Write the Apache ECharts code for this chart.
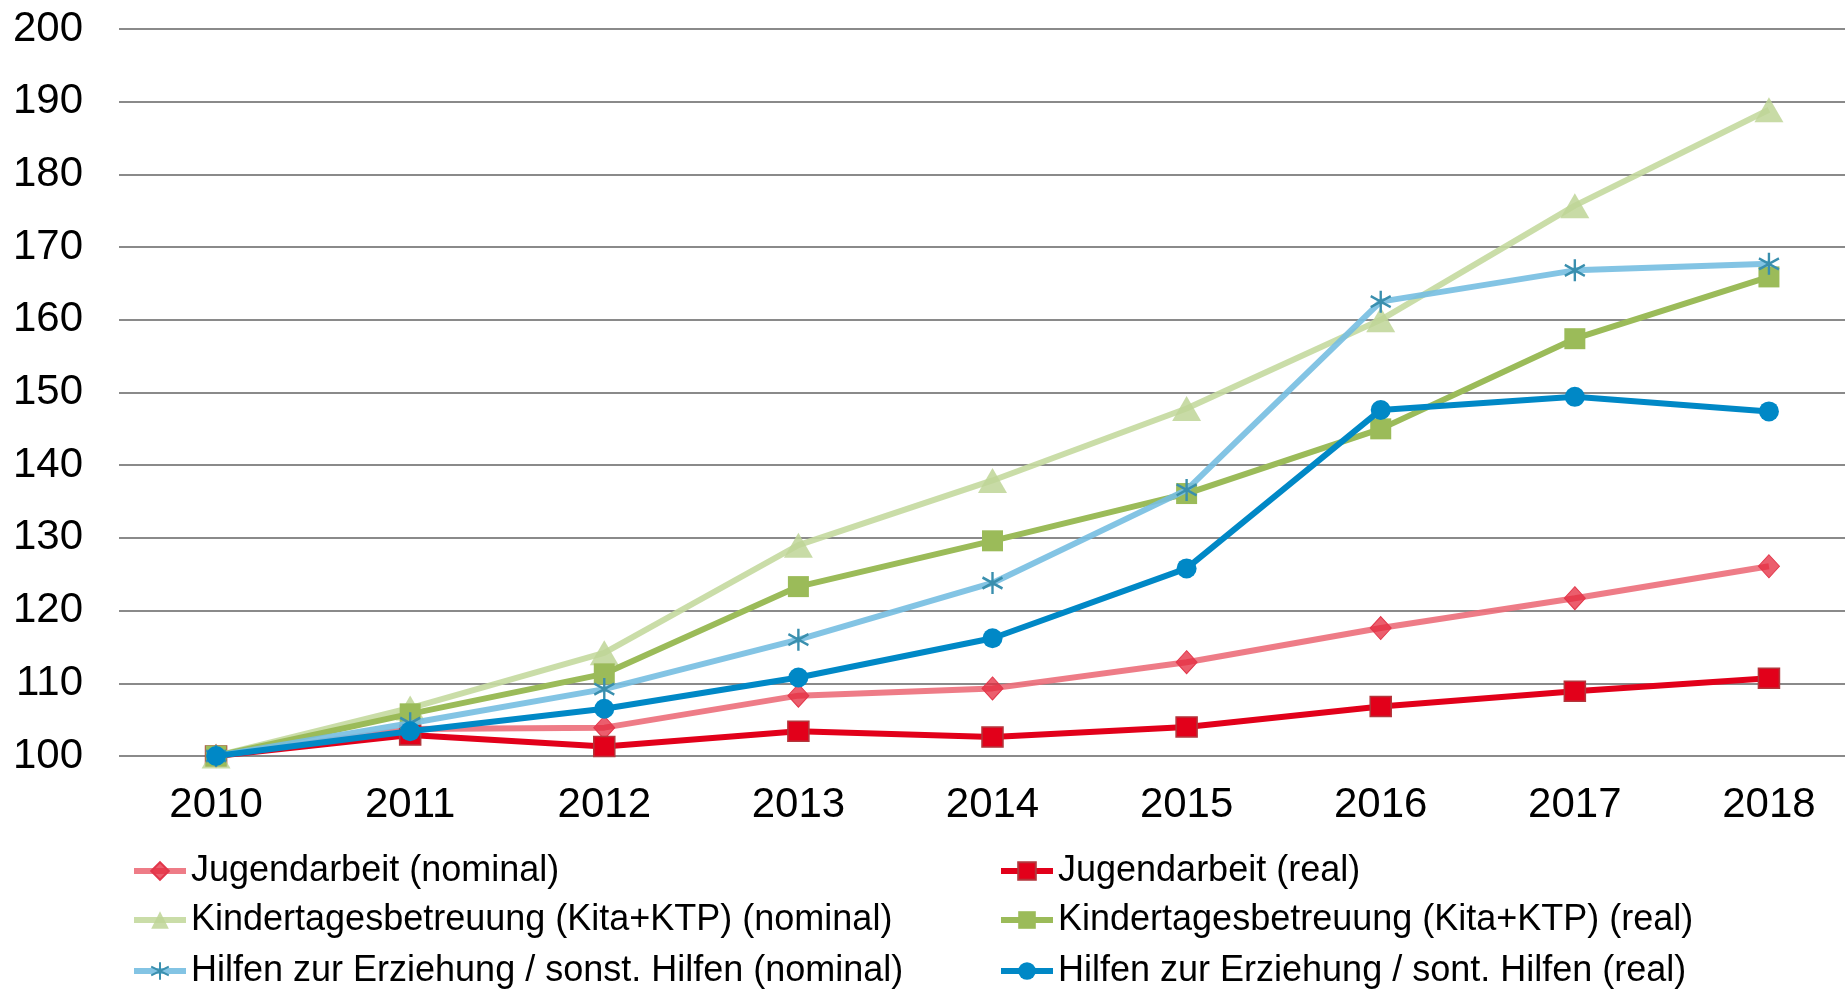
<!DOCTYPE html>
<html>
<head>
<meta charset="utf-8">
<script src="https://cdn.jsdelivr.net/npm/echarts@6/dist/echarts.min.js"></script>
<style>
html,body{margin:0;padding:0;background:#fff;}
#chart{width:1845px;height:989px;}
</style>
</head>
<body>
<div id="chart"></div>
<script>
const years = ['2010','2011','2012','2013','2014','2015','2016','2017','2018'];
const jugendNominal = [100, 103.7, 103.9, 108.3, 109.3, 112.9, 117.6, 121.7, 126.1];
const jugendReal    = [100, 102.9, 101.3, 103.4, 102.6, 104.0, 106.8, 108.9, 110.7];
const kitaNominal   = [100, 106.6, 114.2, 129.0, 137.9, 147.8, 160.0, 175.7, 188.9];
const kitaReal      = [100, 105.8, 111.3, 123.3, 129.6, 136.1, 145.0, 157.4, 165.9];
const hilfenNominal = [100, 104.5, 109.2, 116.0, 123.8, 136.6, 162.5, 166.8, 167.7];
const hilfenReal    = [100, 103.4, 106.5, 110.8, 116.2, 125.8, 147.6, 149.4, 147.4];
const yTicks = {min: 100, max: 200, interval: 10};

const names = [
  'Jugendarbeit (nominal)',
  'Jugendarbeit (real)',
  'Kindertagesbetreuung (Kita+KTP) (nominal)',
  'Kindertagesbetreuung (Kita+KTP) (real)',
  'Hilfen zur Erziehung / sonst. Hilfen (nominal)',
  'Hilfen zur Erziehung / sont. Hilfen (real)'
];

const FONT = '"Liberation Sans", Arial, sans-serif';
const asterisk = 'path://M10,0L10,20M1.34,5L18.66,15M1.34,15L18.66,5';
const LW = 6;

function mk(name, data, lineColor, symbol, symbolSize, itemStyle, z) {
  return {
    name: name, type: 'line', data: data,
    symbol: symbol, symbolSize: symbolSize, showSymbol: true,
    lineStyle: {color: lineColor, width: LW},
    itemStyle: itemStyle,
    z: z,
    animation: false
  };
}

const legendText = {fontFamily: FONT, fontSize: 36, color: '#000', lineHeight: 38};
function leg(name, left, top) {
  return {
    data: [name], orient: 'vertical', left: left, top: top, padding: 0,
    itemWidth: 52, itemHeight: 22, height: 60,
    textStyle: legendText, selectedMode: false,
    lineStyle: {width: LW}
  };
}

const chart = echarts.init(document.getElementById('chart'), null, {renderer: 'canvas'});
chart.setOption({
  backgroundColor: '#fff',
  animation: false,
  grid: {left: 119, top: 29, height: 727, width: 1747, containLabel: false, outerBoundsMode: 'none'},
  xAxis: {
    type: 'category', data: years, boundaryGap: true,
    axisLine: {show: false}, axisTick: {show: false},
    axisLabel: {fontFamily: FONT, fontSize: 42, color: '#000', margin: 28}
  },
  yAxis: {
    type: 'value', min: yTicks.min, max: yTicks.max, interval: yTicks.interval,
    axisLine: {show: false}, axisTick: {show: false},
    axisLabel: {fontFamily: FONT, fontSize: 42, color: '#000', margin: 36},
    splitLine: {lineStyle: {color: '#8a8a8a', width: 2}}
  },
  legend: [
    leg(names[0], 131, 852),
    leg(names[2], 131, 901),
    leg(names[4], 131, 952),
    leg(names[1], 998, 852),
    leg(names[3], 998, 901),
    leg(names[5], 998, 952)
  ],
  series: [
    mk(names[0], jugendNominal, 'rgba(236,110,122,0.9)', 'diamond', [21, 23],
       {color: 'rgba(228,40,60,0.75)', borderColor: '#e2374b', borderWidth: 1}, 2),
    mk(names[1], jugendReal, '#e2001a', 'rect', [21, 20],
       {color: '#e2001a', borderColor: '#b3363c', borderWidth: 1.5}, 3),
    mk(names[2], kitaNominal, 'rgba(196,217,158,0.9)', 'triangle', [29, 25],
       {color: 'rgba(190,213,150,0.85)'}, 4),
    mk(names[3], kitaReal, '#9bbb59', 'rect', [21, 21],
       {color: '#9bbb59'}, 5),
    mk(names[4], hilfenNominal, 'rgba(118,190,225,0.9)', asterisk, [20, 22],
       {color: 'rgba(0,0,0,0)', borderColor: '#3a8fae', borderWidth: 2.5}, 6),
    mk(names[5], hilfenReal, '#0088c6', 'circle', 20,
       {color: '#0088c6'}, 7)
  ]
});
</script>
</body>
</html>
